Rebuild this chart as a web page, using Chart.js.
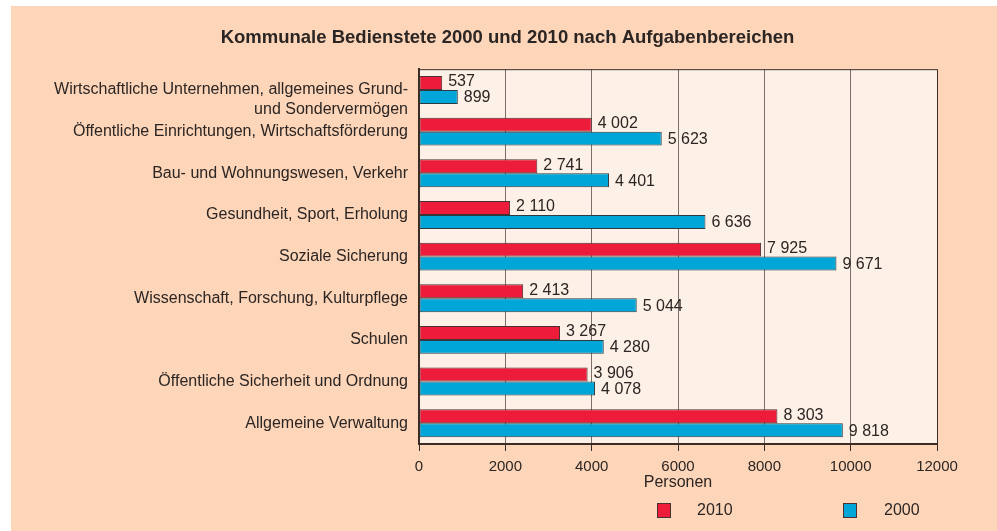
<!DOCTYPE html>
<html>
<head>
<meta charset="utf-8">
<script src="https://cdn.jsdelivr.net/npm/chart.js@4"></script>
<style>
  html, body { margin: 0; padding: 0; background: #fff; }
  #wrap { position: absolute; left: 11px; top: 6px; width: 986px; height: 525px; background: #fdd5b9; }
</style>
</head>
<body>
<div id="wrap"><canvas id="chart" width="986" height="525"></canvas></div>
<script>
// categories, top to bottom
const categories = [
  ['Wirtschaftliche Unternehmen, allgemeines Grund-', 'und Sondervermögen'],
  'Öffentliche Einrichtungen, Wirtschaftsförderung',
  'Bau- und Wohnungswesen, Verkehr',
  'Gesundheit, Sport, Erholung',
  'Soziale Sicherung',
  'Wissenschaft, Forschung, Kulturpflege',
  'Schulen',
  'Öffentliche Sicherheit und Ordnung',
  'Allgemeine Verwaltung'
];
const values2010 = [537, 4002, 2741, 2110, 7925, 2413, 3267, 3906, 8303];
const values2000 = [899, 5623, 4401, 6636, 9671, 5044, 4280, 4078, 9818];
const xTicks = [0, 2000, 4000, 6000, 8000, 10000, 12000];

const RED = '#ee1c3b';
const BLUE = '#00a6d7';
const TEXT = '#2b2523';
const FONT = "'Liberation Sans', Arial, sans-serif";

Chart.defaults.font.family = FONT;
Chart.defaults.color = TEXT;

function fmt(v) {
  return String(v).replace(/\B(?=(\d{3})+(?!\d))/g, ' ');
}

// plot background + frame, title nudged right like the original
const plotFrame = {
  id: 'plotFrame',
  afterLayout(chart) {
    const t = chart.titleBlock;
    if (t) {
      t.left = 67;
      t.width = t.right - t.left;
    }
  },
  beforeDraw(chart) {
    const { ctx, chartArea: a } = chart;
    ctx.save();
    ctx.fillStyle = '#fdf0e6';
    ctx.fillRect(a.left, a.top, a.right - a.left, a.bottom - a.top);
    ctx.restore();
  },
  afterDraw(chart) {
    const { ctx, chartArea: a } = chart;
    ctx.save();
    ctx.strokeStyle = '#3a2b25';
    ctx.lineWidth = 1;
    ctx.beginPath();
    ctx.moveTo(a.left, a.top + 0.5);
    ctx.lineTo(a.right + 0.5, a.top + 0.5);
    ctx.lineTo(a.right + 0.5, a.bottom);
    ctx.stroke();
    ctx.restore();
  }
};

// value labels next to the bars
const valueLabels = {
  id: 'valueLabels',
  afterDatasetsDraw(chart) {
    const { ctx } = chart;
    ctx.save();
    ctx.font = '16px ' + FONT;
    ctx.fillStyle = TEXT;
    ctx.textAlign = 'left';
    ctx.textBaseline = 'middle';
    chart.data.datasets.forEach((ds, i) => {
      const shift = i === 0 ? -1 : 1;
      chart.getDatasetMeta(i).data.forEach((bar, j) => {
        ctx.fillText(fmt(ds.data[j]), bar.x + 6, bar.y + shift);
      });
    });
    ctx.restore();
  }
};

// legend row under the axis title
const bottomLegend = {
  id: 'bottomLegend',
  afterDraw(chart) {
    const { ctx, chartArea: a } = chart;
    const y = a.bottom + 59;
    const items = [
      { ds: 0, box: 238, text: 278 },
      { ds: 1, box: 424, text: 465 }
    ];
    ctx.save();
    ctx.font = '16px ' + FONT;
    ctx.textBaseline = 'middle';
    ctx.textAlign = 'left';
    items.forEach(it => {
      const ds = chart.data.datasets[it.ds];
      ctx.fillStyle = ds.backgroundColor;
      ctx.fillRect(a.left + it.box, y, 13, 14);
      ctx.strokeStyle = '#4a3232';
      ctx.lineWidth = 1;
      ctx.strokeRect(a.left + it.box + 0.5, y + 0.5, 13, 14);
      ctx.fillStyle = TEXT;
      ctx.fillText(ds.label, a.left + it.text, y + 8);
    });
    ctx.restore();
  }
};

new Chart(document.getElementById('chart'), {
  type: 'bar',
  data: {
    labels: categories,
    datasets: [
      {
        label: '2010',
        data: values2010,
        backgroundColor: RED,
        borderColor: '#4a3232',
        borderWidth: 1,
        borderSkipped: false
      },
      {
        label: '2000',
        data: values2000,
        backgroundColor: BLUE,
        borderColor: '#2f3a40',
        borderWidth: 1,
        borderSkipped: false
      }
    ]
  },
  options: {
    indexAxis: 'y',
    responsive: false,
    animation: false,
    devicePixelRatio: 1,
    categoryPercentage: 0.67,
    barPercentage: 1,
    layout: { padding: { left: 0, right: 60, top: 0, bottom: 0 } },
    plugins: {
      legend: { display: false },
      tooltip: { enabled: false },
      title: {
        display: true,
        text: 'Kommunale Bedienstete 2000 und 2010 nach Aufgabenbereichen',
        font: { size: 18.5, weight: 'bold' },
        color: TEXT,
        padding: { top: 21, bottom: 20 }
      }
    },
    scales: {
      x: {
        min: 0,
        max: 12000,
        afterBuildTicks(scale) {
          scale.ticks = xTicks.map(v => ({ value: v }));
        },
        afterFit(scale) { scale.height = 87; },
        ticks: {
          font: { size: 15 },
          color: TEXT,
          padding: 7,
          callback: v => String(v)
        },
        grid: {
          color: '#7b6f69',
          lineWidth: 1,
          drawTicks: true,
          tickLength: 7,
          tickColor: '#3a2b25'
        },
        border: { color: '#3a2b25', width: 2 },
        title: {
          display: true,
          text: 'Personen',
          font: { size: 16 },
          color: TEXT,
          padding: { top: 0, bottom: 39 }
        }
      },
      y: {
        afterFit(scale) { scale.width = 408; },
        ticks: {
          autoSkip: false,
          font: { size: 16, lineHeight: 1.25 },
          color: TEXT,
          padding: 11,
          callback(value, index) {
            const lbl = categories[index];
            return Array.isArray(lbl) ? [''].concat(lbl) : lbl;
          }
        },
        grid: { display: false, drawTicks: false },
        border: { color: '#3a2b25', width: 2 }
      }
    }
  },
  plugins: [plotFrame, valueLabels, bottomLegend]
});
</script>
</body>
</html>
